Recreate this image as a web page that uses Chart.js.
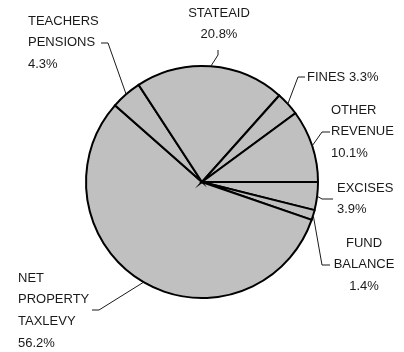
<!DOCTYPE html>
<html>
<head>
<meta charset="utf-8">
<script src="https://cdn.jsdelivr.net/npm/chart.js@4"></script>
<style>
  html, body { margin: 0; padding: 0; background: #fff; }
  #wrap { width: 404px; height: 352px; position: relative; }
</style>
</head>
<body>
<div id="wrap"><canvas id="pie"></canvas></div>
<script>
// slices, clockwise from 3 o'clock
const categories = ["EXCISES", "FUND BALANCE", "NET PROPERTY TAXLEVY", "TEACHERS PENSIONS", "STATEAID", "FINES", "OTHER REVENUE"];
const shares = [3.9, 1.4, 56.2, 4.3, 20.8, 3.3, 10.1];
const labelLines = [
    ["EXCISES"],
    ["FUND", "BALANCE"],
    ["NET", "PROPERTY", "TAXLEVY"],
    ["TEACHERS", "PENSIONS"],
    ["STATEAID"],
    ["FINES"],
    ["OTHER", "REVENUE"]
];

// label placement, offsets from pie centre
const labelPlace = [
    { tx: 135, ty: 6, align: "left", elbow: [120, 17], end: [131, 17], inline: false },
    { tx: 162, ty: 61, align: "center", elbow: [120, 83], end: [128, 83], inline: false },
    { tx: -184, ty: 96, align: "left", elbow: [-103, 128], end: [-110, 128], inline: false },
    { tx: -174, ty: -161, align: "left", elbow: [-94, -139], end: [-101, -139], inline: false },
    { tx: 17, ty: -169, align: "center", elbow: [16, -127], end: [16, -132], inline: false },
    { tx: 105, ty: -105, align: "left", elbow: [96, -105], end: [103, -105], inline: true },
    { tx: 129, ty: -72, align: "left", elbow: [120, -50], end: [128, -50], inline: false }
];

const lineGap = 21.8;

const calloutPlugin = {
    id: "callouts",
    afterDatasetsDraw(chart) {
        const ctx = chart.ctx;
        const arcs = chart.getDatasetMeta(0).data;
        ctx.save();
        ctx.font = "13px 'Liberation Sans', Arial, sans-serif";
        ctx.fillStyle = "#1a1a1a";
        ctx.strokeStyle = "#1a1a1a";
        ctx.lineWidth = 1;
        ctx.textBaseline = "middle";
        arcs.forEach((arc, i) => {
            const p = arc.getProps(["x", "y", "startAngle", "endAngle", "outerRadius"], true);
            const mid = (p.startAngle + p.endAngle) / 2;
            const r = p.outerRadius;
            const place = labelPlace[i];
            const ax = p.x + Math.cos(mid) * r;
            const ay = p.y + Math.sin(mid) * r;

            ctx.beginPath();
            ctx.moveTo(ax, ay);
            ctx.lineTo(p.x + place.elbow[0], p.y + place.elbow[1]);
            ctx.lineTo(p.x + place.end[0], p.y + place.end[1]);
            ctx.stroke();

            const pct = shares[i].toFixed(1) + "%";
            let lines = labelLines[i].slice();
            if (place.inline) {
                lines[lines.length - 1] += " " + pct;
            } else {
                lines.push(pct);
            }
            ctx.textAlign = place.align;
            lines.forEach((t, k) => {
                ctx.fillText(t, p.x + place.tx, p.y + place.ty + k * lineGap);
            });
        });
        ctx.restore();
    }
};

new Chart(document.getElementById("pie"), {
    type: "pie",
    data: {
        labels: categories,
        datasets: [{
            data: shares,
            backgroundColor: "#c0c0c0",
            borderColor: "#000000",
            borderWidth: 2,
            borderJoinStyle: "miter"
        }]
    },
    options: {
        responsive: true,
        maintainAspectRatio: false,
        animation: false,
        rotation: 90,
        layout: {
            padding: { left: 85, right: 85, top: 64, bottom: 52 }
        },
        plugins: {
            legend: { display: false },
            tooltip: { enabled: false }
        }
    },
    plugins: [calloutPlugin]
});
</script>
</body>
</html>
